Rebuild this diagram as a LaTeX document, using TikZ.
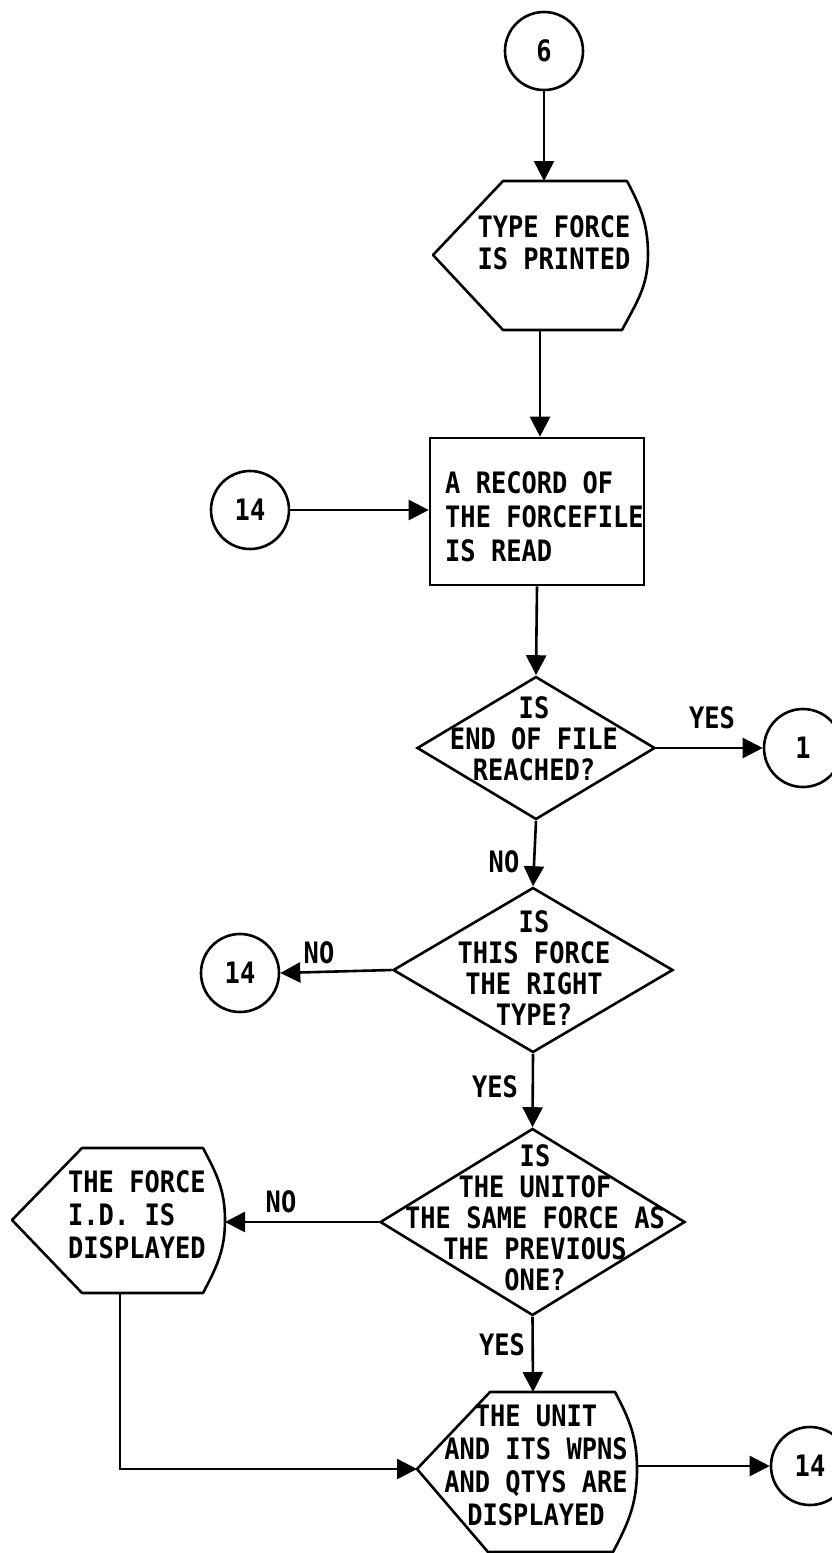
\documentclass[tikz,border=0pt]{standalone}
\usepackage{fontspec}
\usetikzlibrary{shapes.geometric,arrows.meta}
\newfontfamily\twfam[FakeStretch=0.86]{DejaVu Sans Mono Bold}
\newcommand\twfont{\twfam\fontsize{29.5}{32}\selectfont}
\tikzset{
  lw/.style={line width=2.6pt},
  conn/.style={lw,-{Triangle[length=20pt,width=20pt]}},
  plain/.style={lw},
  term/.style={circle,draw,lw,minimum size=78pt,inner sep=0pt,font=\twfont},
  dec/.style={diamond,draw,lw,inner sep=0pt},
  procbox/.style={rectangle,draw,lw,inner sep=0pt},
  txt/.style={inner sep=0pt,font=\twfont},
  lbl/.style={inner sep=0pt,font=\twfont},
}
\begin{document}
\begin{tikzpicture}[x=1pt,y=-1pt]
\useasboundingbox (0,0) rectangle (832,1553);
\fill[white] (0,0) rectangle (832,1553);

% connectors circles
\node[term] (c6) at (544,51) {6};
\node[term] (c14a) at (250,510) {14};
\node[term] (c1) at (803,748) {1};
\node[term] (c14b) at (240,973) {14};
\node[term] (c14c) at (810,1466) {14};

% display 1
\draw[lw,line join=round] (433,255) -- (503,181) -- (627,181)
  to[out=-62,in=90] (648,255) to[out=-90,in=62] (622,330) -- (503,330) -- cycle;
\coordinate (d1t) at (544,181);
\coordinate (d1b) at (540,330);
\node[txt,align=left] (d1txt) at (554,243) {TYPE FORCE\\IS PRINTED};

% process box
\node[procbox,minimum width=214pt,minimum height=147pt] (rec) at (537,511.5) {};
\node[txt,align=left,anchor=west,font=\twfam\fontsize{29.5}{34}\selectfont] (rectxt) at (445,517) {A RECORD OF\\THE FORCEFILE\\IS READ};

% decisions
\node[dec,minimum width=238pt,minimum height=143pt] (q1) at (536,748) {};
\node[txt,align=center,font=\twfam\fontsize{29.5}{31}\selectfont] (q1txt) at (534,739) {IS\\END OF FILE\\REACHED?};

\node[dec,minimum width=280pt,minimum height=165pt] (q2) at (533,970) {};
\node[txt,align=center,font=\twfam\fontsize{29.5}{31}\selectfont] (q2txt) at (534,968) {IS\\THIS FORCE\\THE RIGHT\\TYPE?};

\node[dec,minimum width=305pt,minimum height=187pt] (q3) at (532.5,1222) {};
\node[txt,align=center,font=\twfam\fontsize{29.5}{31}\selectfont] (q3txt) at (535,1218) {IS\\THE UNITOF\\THE SAME FORCE AS\\THE PREVIOUS\\ONE?};

% display 2 (left)
\draw[lw,line join=round] (12,1220) -- (82,1148) -- (203,1148)
  to[out=-62,in=90] (225,1220) to[out=-90,in=62] (203,1293) -- (82,1293) -- cycle;
\coordinate (d2r) at (225,1222);
\coordinate (d2b) at (120,1293);
\node[txt,align=left,anchor=west,font=\twfam\fontsize{29.5}{33}\selectfont] (d2txt) at (68,1215) {THE FORCE\\I.D. IS\\DISPLAYED};

% display 3 (bottom)
\draw[lw,line join=round] (417,1469) -- (490,1392) -- (615,1392)
  to[out=-62,in=90] (637,1469) to[out=-90,in=62] (613,1552) -- (488,1552) -- cycle;
\coordinate (d3t) at (533,1392);
\coordinate (d3l) at (417,1469);
\coordinate (d3r) at (637,1466);
\node[txt,align=center,font=\twfam\fontsize{29.5}{33}\selectfont] (d3txt) at (536,1465) {THE UNIT\\AND ITS WPNS\\AND QTYS ARE\\DISPLAYED};

% corner
\coordinate (k1) at (120,1469);

% arrows
\draw[conn] (c6.south) -- (d1t);
\draw[conn] (d1b) -- (d1b |- rec.north);
\draw[conn] (c14a.east) -- (c14a.east -| rec.west);
\draw[conn] (rec.south) -- (q1.north);
\draw[conn] (q1.east) -- (c1.west);
\draw[conn] (q1.south) -- (q2.north);
\draw[conn] (q2.west) -- (c14b.east);
\draw[conn] (q2.south) -- (q3.north);
\draw[conn] (q3.west) -- (d2r);
\draw[conn] (q3.south) -- (d3t);
\draw[conn] (d2b) -- (k1) -- (d3l);
\draw[conn] (d3r) -- (c14c.west);

% labels
\node[lbl] (yes1) at (712,718) {YES};
\node[lbl] (no1) at (504,862) {NO};
\node[lbl] (no2) at (319,953) {NO};
\node[lbl] (yes2) at (495,1087) {YES};
\node[lbl] (no3) at (281,1202) {NO};
\node[lbl] (yes3) at (502,1345) {YES};
\end{tikzpicture}
\end{document}
